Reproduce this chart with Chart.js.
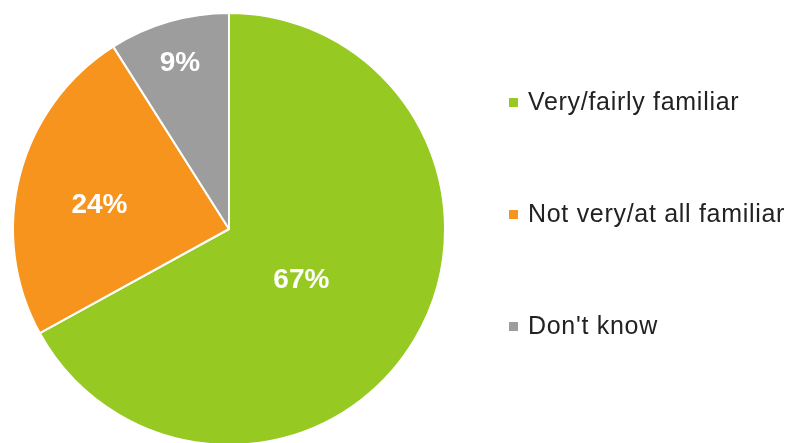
<!DOCTYPE html>
<html>
<head>
<meta charset="utf-8">
<script src="https://cdn.jsdelivr.net/npm/chart.js@4"></script>
<style>
    html, body { margin: 0; padding: 0; background: #fff; overflow: hidden; }
    #wrap { position: relative; width: 790px; height: 458px; }
</style>
</head>
<body>
<div id="wrap"><canvas id="pieChart" width="790" height="458"></canvas></div>
<script>
const categories = ['Very/fairly familiar', 'Not very/at all familiar', "Don't know"];
const shares = [67, 24, 9];
const sliceColors = ['#97c923', '#f7941d', '#9d9d9d'];

// percent labels inside the slices (radius as a fraction of the pie radius)
const sliceLabels = {
    id: 'sliceLabels',
    afterDatasetsDraw(chart, args, opts) {
        const ctx = chart.ctx;
        const arcs = chart.getDatasetMeta(0).data;
        ctx.save();
        ctx.font = 'bold 28px "Liberation Sans", Arial, sans-serif';
        ctx.fillStyle = '#ffffff';
        ctx.textAlign = 'center';
        ctx.textBaseline = 'middle';
        arcs.forEach((arc, i) => {
            const mid = (arc.startAngle + arc.endAngle) / 2 + opts.shift[i];
            const r = arc.outerRadius * opts.radius[i];
            const x = arc.x + Math.cos(mid) * r;
            const y = arc.y + Math.sin(mid) * r;
            ctx.fillText(shares[i] + '%', x, y);
        });
        ctx.restore();
    }
};

// legend drawn to the right of the pie
const sideLegend = {
    id: 'sideLegend',
    afterDraw(chart, args, opts) {
        const ctx = chart.ctx;
        ctx.save();
        ctx.font = opts.font;
        ctx.letterSpacing = '0.7px';
        ctx.textBaseline = 'alphabetic';
        chart.data.labels.forEach((label, i) => {
            const y = opts.top + i * opts.step;
            ctx.fillStyle = sliceColors[i];
            ctx.fillRect(opts.left, y - 4.5, 9, 9);
            ctx.fillStyle = '#222222';
            ctx.fillText(label, opts.left + 19, y + 7.5);
        });
        ctx.restore();
    }
};

new Chart(document.getElementById('pieChart'), {
    type: 'pie',
    data: {
        labels: categories,
        datasets: [{
            data: shares,
            backgroundColor: sliceColors,
            borderColor: '#ffffff',
            borderWidth: 2
        }]
    },
    options: {
        responsive: false,
        animation: false,
        layout: { padding: { left: 12, top: 12, right: 344, bottom: 12 } },
        plugins: {
            legend: { display: false },
            tooltip: { enabled: false },
            sliceLabels: { radius: [0.41, 0.61, 0.80], shift: [0.08, -0.07, -0.005] },
            sideLegend: { left: 509, top: 102.5, step: 112, font: '25px "Liberation Sans", Arial, sans-serif' }
        }
    },
    plugins: [sliceLabels, sideLegend]
});
</script>
</body>
</html>
